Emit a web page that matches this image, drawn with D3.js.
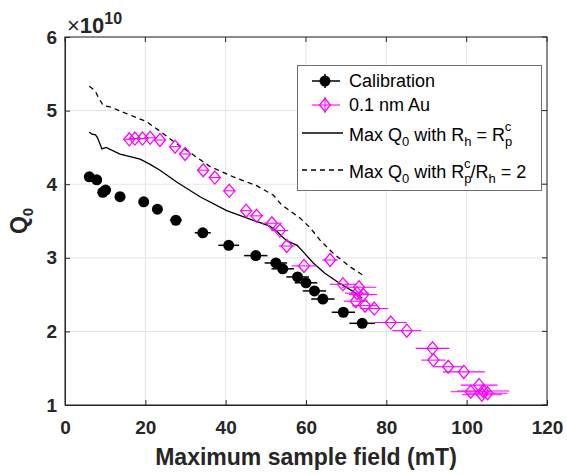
<!DOCTYPE html>
<html><head><meta charset="utf-8">
<script src="https://cdn.jsdelivr.net/npm/d3@7"></script>
<style>body{margin:0;background:#fff}svg{display:block}text{font-family:"Liberation Sans",Arial,sans-serif}</style>
</head><body>
<svg id="c" width="567" height="474"></svg>
<script>
// Calibration (field mT, Q0 in 1e10, x error mT)
const calX = [6.05,7.9,9.4,10.1,13.7,19.6,23.0,27.6,34.3,40.75,47.5,52.5,54.2,57.9,60.0,62.1,64.2,69.3,74.0];
const calQ = [4.10,4.06,3.89,3.92,3.83,3.76,3.66,3.51,3.34,3.17,3.03,2.93,2.85,2.74,2.66,2.55,2.44,2.26,2.11];
const calE = [0.5,0.6,0.7,0.7,0.9,1.1,1.2,1.5,2.0,2.6,2.9,2.8,2.8,2.8,2.8,2.9,2.9,2.9,3.2];
// 0.1 nm Au
const auX = [16.0,17.4,19.3,21.2,23.65,27.4,29.9,34.4,37.3,40.9,45.1,47.7,51.5,53.5,55.2,59.5,66.0,69.2,73.2,72.7,74.2,72.4,74.7,77.0,81.1,85.1,91.5,91.7,95.4,99.3,101.0,103.1,104.1,103.8,105.2];
const auQ = [4.61,4.62,4.62,4.63,4.60,4.51,4.41,4.19,4.09,3.91,3.64,3.57,3.47,3.37,3.16,2.89,2.97,2.64,2.60,2.52,2.50,2.41,2.35,2.31,2.12,2.01,1.77,1.61,1.52,1.45,1.18,1.27,1.19,1.14,1.16];
const auE = [1.2,1.2,1.2,1.2,1.3,1.3,1.4,1.5,1.5,1.5,1.5,1.7,2.5,2.1,2.0,3.1,2.0,3.3,4.3,3.0,3.5,3.0,3.2,3.5,4.0,3.6,4.2,3.0,3.7,5.2,5.0,4.6,6.5,5.0,5.0];
// Max Q0 with Rh = Rp^c (solid)
const solX = [6.05,6.7,7.6,8.1,9.2,10.2,13.7,18.7,21.2,23.65,27.8,33.6,40.25,46.9,51.0,52.8,54.0,55.3,57.8,59.5,61.8,64.7,68.45,71.8,74.0];
const solQ = [4.71,4.68,4.67,4.63,4.48,4.50,4.41,4.34,4.27,4.19,4.03,3.83,3.64,3.51,3.43,3.36,3.29,3.23,3.17,3.07,2.93,2.79,2.65,2.54,2.45];
// Max Q0 with Rp^c/Rh = 2 (dashed)
const dshX = [6.05,7.5,8.3,9.5,11.2,16.2,20.3,23.65,27.8,31.9,36.1,41.9,47.7,51.9,53.9,55.2,58.5,61.0,63.5,66.8,70.9,74.0];
const dshQ = [5.33,5.27,5.18,5.07,5.05,4.94,4.85,4.72,4.55,4.40,4.24,4.10,3.98,3.85,3.72,3.67,3.54,3.41,3.24,3.06,2.88,2.77];
const xTicks = [0,20,40,60,80,100,120];
const yTicks = [1,2,3,4,5,6];

const svg = d3.select("#c");
const L=65,R=547,T=37,B=405;
const x = d3.scaleLinear().domain([0,120]).range([L,R]);
const y = d3.scaleLinear().domain([1,6]).range([B,T]);
const ax = "#262626", mag = "#ff00ff";

// grid
const g = svg.append("g");
g.selectAll(".gx").data(xTicks).join("line").attr("x1",d=>x(d)).attr("x2",d=>x(d)).attr("y1",T).attr("y2",B).attr("stroke","#e4e4e4").attr("stroke-width",1);
g.selectAll(".gy").data(yTicks).join("line").attr("y1",d=>y(d)).attr("y2",d=>y(d)).attr("x1",L).attr("x2",R).attr("stroke","#e4e4e4").attr("stroke-width",1);

// lines
const line = d3.line().x(d=>x(d[0])).y(d=>y(d[1]));
svg.append("path").attr("d",line(solX.map((v,i)=>[v,solQ[i]]))).attr("fill","none").attr("stroke","#000").attr("stroke-width",1.3);
svg.append("path").attr("d",line(dshX.map((v,i)=>[v,dshQ[i]]))).attr("fill","none").attr("stroke","#000").attr("stroke-width",1.3).attr("stroke-dasharray","5,4");

// calibration error bars + markers
const cal = calX.map((v,i)=>({x:v,q:calQ[i],e:calE[i]}));
svg.append("g").selectAll("line").data(cal).join("line")
  .attr("x1",d=>x(d.x-d.e)).attr("x2",d=>x(d.x+d.e)).attr("y1",d=>y(d.q)).attr("y2",d=>y(d.q))
  .attr("stroke","#000").attr("stroke-width",1.5);
svg.append("g").selectAll("circle").data(cal).join("circle")
  .attr("cx",d=>x(d.x)).attr("cy",d=>y(d.q)).attr("r",5.5).attr("fill","#000");

// Au error bars + diamonds
const au = auX.map((v,i)=>({x:v,q:auQ[i],e:auE[i]}));
svg.append("g").selectAll("line").data(au).join("line")
  .attr("x1",d=>x(d.x-d.e)).attr("x2",d=>x(d.x+d.e)).attr("y1",d=>y(d.q)).attr("y2",d=>y(d.q))
  .attr("stroke",mag).attr("stroke-width",1.1);
const dia = (cx,cy)=>`M${cx},${cy-6.5}L${cx+5.5},${cy}L${cx},${cy+6.5}L${cx-5.5},${cy}Z`;
svg.append("g").selectAll("path").data(au).join("path")
  .attr("d",d=>dia(x(d.x),y(d.q))).attr("fill","none").attr("stroke",mag).attr("stroke-width",1.3);

// axes box
svg.append("rect").attr("x",L).attr("y",T).attr("width",R-L).attr("height",B-T).attr("fill","none").attr("stroke",ax).attr("stroke-width",1);
const xa = d3.axisBottom(x).tickValues(xTicks).tickSize(-5).tickPadding(16).tickFormat(d3.format("d"));
const gxa = svg.append("g").attr("transform",`translate(0,${B})`).call(xa);
const ya = d3.axisLeft(y).tickValues(yTicks).tickSize(-5).tickPadding(8).tickFormat(d3.format("d"));
const gya = svg.append("g").attr("transform",`translate(${L},0)`).call(ya);
// top/right ticks
svg.append("g").selectAll("line").data(xTicks).join("line").attr("x1",d=>x(d)).attr("x2",d=>x(d)).attr("y1",T).attr("y2",T+5).attr("stroke",ax);
svg.append("g").selectAll("line").data(yTicks).join("line").attr("y1",d=>y(d)).attr("y2",d=>y(d)).attr("x1",R).attr("x2",R-5).attr("stroke",ax);
[gxa,gya].forEach(a=>{
  a.select(".domain").attr("stroke",ax);
  a.selectAll(".tick line").attr("stroke",ax);
  a.selectAll(".tick text").attr("fill",ax).attr("font-size",19).attr("font-weight","bold").style("font-family","'Liberation Sans',Arial,sans-serif");
});

// exponent label
const ex = svg.append("text").attr("x",67).attr("y",33).attr("fill",ax).attr("font-size",22).attr("font-weight","bold");
ex.append("tspan").text("×").attr("font-weight","normal");
ex.append("tspan").text("10");
ex.append("tspan").text("10").attr("font-size",16).attr("dy",-9);

// axis labels
svg.append("text").attr("x",(L+R)/2).attr("y",465).attr("text-anchor","middle").attr("fill",ax).attr("font-size",23).attr("font-weight","bold").text("Maximum sample field (mT)");
const yl = svg.append("text").attr("transform",`translate(27,${(T+B)/2}) rotate(-90)`).attr("text-anchor","middle").attr("fill",ax).attr("font-size",23).attr("font-weight","bold");
yl.append("tspan").text("Q");
yl.append("tspan").text("0").attr("font-size",15).attr("dy",6);

// legend
const lg = svg.append("g");
lg.append("rect").attr("x",297.5).attr("y",65.5).attr("width",244).attr("height",125).attr("fill","#fff").attr("stroke","#6e6e6e").attr("stroke-width",1);
const lx0=302, lx1=343, lxm=323, tx=349;
// row1 calibration
lg.append("line").attr("x1",312).attr("x2",340).attr("y1",81).attr("y2",81).attr("stroke","#000").attr("stroke-width",1.5);
lg.append("line").attr("x1",lxm+2).attr("x2",lxm+2).attr("y1",74).attr("y2",88).attr("stroke","#000").attr("stroke-width",1.5);
lg.append("circle").attr("cx",lxm+2).attr("cy",81).attr("r",5.5).attr("fill","#000");
// row2 Au
lg.append("line").attr("x1",312).attr("x2",340).attr("y1",105).attr("y2",105).attr("stroke",mag).attr("stroke-width",1.1);
lg.append("line").attr("x1",lxm+2).attr("x2",lxm+2).attr("y1",97).attr("y2",113).attr("stroke",mag).attr("stroke-width",1.1);
lg.append("path").attr("d",dia(lxm+2,105)).attr("fill","none").attr("stroke",mag).attr("stroke-width",1.3);
// row3 solid
lg.append("line").attr("x1",lx0).attr("x2",lx1).attr("y1",133).attr("y2",133).attr("stroke","#000").attr("stroke-width",1.3);
// row4 dashed
lg.append("line").attr("x1",lx0).attr("x2",lx1).attr("y1",170).attr("y2",170).attr("stroke","#000").attr("stroke-width",1.3).attr("stroke-dasharray","5,4");
const lt = (yy)=>lg.append("text").attr("x",tx).attr("y",yy).attr("font-size",18).attr("fill","#000");
lt(87).text("Calibration");
lt(111).text("0.1 nm Au");
const t3 = lt(141);
t3.append("tspan").text("Max Q");
t3.append("tspan").text("0").attr("font-size",13).attr("dy",5);
t3.append("tspan").text(" with R").attr("dy",-5);
t3.append("tspan").text("h").attr("font-size",13).attr("dy",5);
t3.append("tspan").text(" = R").attr("dy",-5);
t3.append("tspan").text("p").attr("font-size",13).attr("dy",5);
t3.append("tspan").text("c").attr("font-size",13).attr("dx",-7.5).attr("dy",-15);
const t4 = lt(178);
t4.append("tspan").text("Max Q");
t4.append("tspan").text("0").attr("font-size",13).attr("dy",5);
t4.append("tspan").text(" with R").attr("dy",-5);
t4.append("tspan").text("p").attr("font-size",13).attr("dy",5);
t4.append("tspan").text("c").attr("font-size",13).attr("dx",-7.5).attr("dy",-15);
t4.append("tspan").text("/R").attr("dy",10);
t4.append("tspan").text("h").attr("font-size",13).attr("dy",5);
t4.append("tspan").text(" = 2").attr("dy",-5);
</script>
</body></html>
